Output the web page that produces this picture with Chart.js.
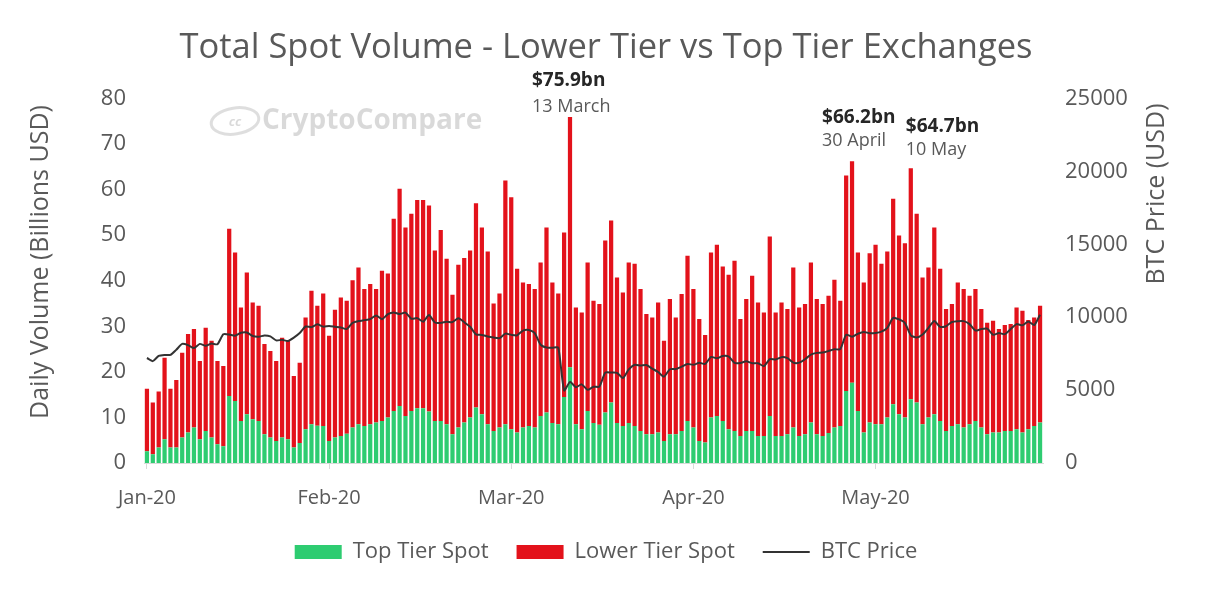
<!DOCTYPE html>
<html><head><meta charset="utf-8">
<script src="https://cdn.jsdelivr.net/npm/chart.js@4.4.1/dist/chart.umd.min.js"></script>
<style>html,body{margin:0;padding:0;background:#fff}#wrap{width:1212px;height:590px;position:relative}canvas{display:block}</style>
</head><body><div id="wrap"><canvas id="c" width="1212" height="590" style="width:1212px;height:590px"></canvas></div>
<script>
// ---- data ----
const startDate = [2020, 0, 1];
const dayCount = 153;
const tickLabels = ['Jan-20', 'Feb-20', 'Mar-20', 'Apr-20', 'May-20'];
const tickEvery = 31;

const topTierSpot = [
  2.6, 1.9, 3.4, 5.2, 3.4, 3.4, 5.6, 6.7, 7.8, 5.2, 7.0, 5.6, 4.1, 3.7, 14.7, 13.6, 9.2, 10.7, 9.6, 9.2, 6.3, 5.6, 4.8, 5.6, 5.2, 3.4, 4.4, 7.4, 8.5, 8.2,
  8.1, 4.8, 5.6, 5.9, 6.4, 7.8, 8.5, 8.1, 8.5, 8.9, 9.2, 10.0, 11.4, 12.5, 10.3, 11.4, 12.0, 12.0, 11.3, 9.2, 9.2, 8.5, 6.3, 7.8, 8.9, 10.0, 12.2, 10.7, 8.5, 7.0,
  7.8, 8.5, 7.4, 6.7, 7.8, 8.1, 7.8, 10.3, 11.1, 8.8, 8.5, 14.5, 21.0, 8.5, 7.4, 11.4, 8.8, 8.4, 11.1, 13.3, 8.8, 8.1, 8.8, 8.1, 7.0, 6.3, 6.3, 6.7, 4.8, 6.3, 6.3, 7.0,
  9.2, 7.8, 4.8, 4.5, 10.0, 10.3, 9.2, 7.4, 7.0, 5.9, 7.0, 7.0, 5.9, 5.9, 10.3, 5.9, 5.9, 6.3, 7.8, 5.9, 6.3, 8.9, 6.3, 5.9, 6.6, 7.8, 8.1, 15.8, 17.6, 11.4,
  6.7, 8.9, 8.5, 8.5, 10.0, 12.9, 10.7, 10.0, 14.0, 13.3, 8.5, 10.0, 10.7, 9.2, 7.0, 8.1, 8.5, 7.8, 8.5, 9.2, 7.8, 6.3, 6.7, 6.7, 7.0, 7.0, 7.4, 6.7, 7.4, 8.1, 8.9
];

const lowerTierSpot = [
  13.7, 11.4, 12.3, 17.9, 12.9, 14.8, 18.6, 21.6, 21.6, 17.2, 22.7, 21.2, 18.3, 17.6, 36.7, 32.6, 24.9, 31.1, 25.6, 25.3, 19.8, 19.0, 17.6, 21.9, 21.6, 15.7, 17.6, 24.5, 29.3, 26.3,
  29.1, 23.1, 28.0, 30.4, 29.2, 32.3, 34.4, 30.1, 30.8, 29.3, 33.0, 31.6, 42.2, 47.7, 41.4, 43.3, 45.7, 45.7, 45.2, 37.4, 41.9, 36.3, 30.6, 35.7, 36.1, 36.6, 44.8, 41.0, 37.9, 28.0,
  29.4, 53.5, 50.9, 35.9, 31.8, 31.2, 30.4, 33.7, 40.6, 30.8, 28.7, 36.1, 54.9, 25.6, 25.6, 32.6, 26.8, 26.5, 37.7, 39.9, 31.9, 29.3, 35.2, 35.6, 31.2, 26.4, 25.6, 28.5, 22.0, 29.7, 25.6, 30.1,
  36.3, 30.4, 26.8, 23.6, 36.2, 37.6, 33.9, 33.9, 37.4, 25.7, 29.0, 34.1, 29.3, 27.1, 39.4, 27.1, 29.3, 27.5, 35.1, 28.2, 28.6, 35.1, 29.7, 29.0, 30.1, 32.4, 27.5, 47.3, 48.6, 34.8,
  32.9, 37.1, 39.4, 35.2, 36.4, 45.1, 39.2, 38.2, 50.7, 41.4, 32.2, 32.9, 41.0, 33.4, 26.8, 26.8, 31.1, 30.4, 28.2, 29.0, 26.0, 24.5, 24.5, 22.7, 23.3, 23.5, 26.7, 26.7, 24.0, 23.8, 25.6
];

const btcPrice = [
  7200, 6985, 7345, 7411, 7411, 7769, 8164, 8080, 7879, 8167, 8038, 8192, 8144, 8828, 8807, 8724, 8929, 8943, 8706, 8658, 8746, 8681, 8407, 8445, 8368, 8597, 8910, 9359, 9317, 9509, 9351,
  9393, 9344, 9294, 9181, 9613, 9730, 9796, 9865, 10117, 9857, 10208, 10326, 10214, 10312, 9889, 9934, 9690, 10142, 9633, 9608, 9686, 9663, 9925, 9650, 9342, 8821, 8784, 8672, 8600,
  8562, 8870, 8788, 8755, 9079, 9123, 8910, 8108, 7924, 7910, 7911, 4971, 5564, 5200, 5392, 5014, 5226, 5238, 6191, 6199, 6185, 5830, 6416, 6735, 6681, 6716, 6470, 6242, 5922, 6430, 6439,
  6607, 6794, 6733, 6868, 6791, 7272, 7176, 7334, 7302, 6865, 6859, 6971, 6845, 6842, 6642, 7117, 7096, 7258, 7189, 6882, 6880, 7117, 7430, 7551, 7570, 7680, 7796, 7807, 8801, 8659,
  8865, 8989, 8897, 8913, 9003, 9269, 9952, 9843, 9594, 8756, 8602, 8804, 9270, 9734, 9328, 9377, 9671, 9727, 9729, 9523, 9082, 9183, 9209, 8790, 8907, 8835, 9181, 9525, 9439, 9700, 9461,
  10167
];

const annotations = [
  { index: 72, value: '$75.9bn', date: '13 March' },
  { index: 120, value: '$66.2bn', date: '30 April' },
  { index: 130, value: '$64.7bn', date: '10 May' }
];

// ---- categories (one per day) ----
const categories = [];
for (let i = 0; i < dayCount; i++) {
  const d = new Date(Date.UTC(startDate[0], startDate[1], startDate[2] + i));
  categories.push(d.toISOString().slice(0, 10));
}

// ---- styling ----
const FONT = "'Open Sans', 'Noto Sans', sans-serif";
const TXT = '#595959';
const annoOffsets = [ {dx: -38, dyV: -36, dyD: -10}, {dx: -30, dyV: -44, dyD: -20}, {dx: -5, dyV: -42, dyD: -18} ];

const extrasPlugin = {
  id: 'extras',
  beforeDatasetsDraw(chart) {
    const ctx = chart.ctx;
    ctx.save();
    ctx.strokeStyle = 'rgba(0,0,0,0.13)';
    ctx.lineWidth = 3;
    ctx.beginPath();
    ctx.ellipse(235, 121, 24, 13, -0.15, 0, Math.PI * 2);
    ctx.stroke();
    ctx.fillStyle = 'rgba(0,0,0,0.15)';
    ctx.font = "italic bold 13px " + FONT;
    ctx.textAlign = 'center'; ctx.textBaseline = 'middle';
    ctx.fillText('cc', 235, 122);
    ctx.font = "bold 28px " + FONT;
    ctx.textAlign = 'left';
    ctx.fillText('CryptoCompare', 262, 121);
    ctx.restore();
  },
  afterDatasetsDraw(chart) {
    const ctx = chart.ctx;
    const xs = chart.scales.x, ys = chart.scales.y;
    ctx.save();
    annotations.forEach((a, i) => {
      const o = annoOffsets[i];
      const x = xs.getPixelForValue(a.index);
      const top = ys.getPixelForValue(topTierSpot[a.index] + lowerTierSpot[a.index]);
      ctx.textAlign = 'left'; ctx.textBaseline = 'middle';
      ctx.fillStyle = '#262626';
      ctx.font = "bold 19px " + FONT;
      ctx.fillText(a.value, x + o.dx, top + o.dyV);
      ctx.fillStyle = TXT;
      ctx.font = "18px " + FONT;
      ctx.fillText(a.date, x + o.dx, top + o.dyD);
    });
    ctx.fillStyle = TXT;
    ctx.font = "25px " + FONT;
    ctx.textAlign = 'center'; ctx.textBaseline = 'middle';
    ctx.translate(41, 262); ctx.rotate(-Math.PI / 2);
    ctx.fillText('Daily Volume (Billions USD)', 0, 0);
    ctx.setTransform(1, 0, 0, 1, 0, 0);
    ctx.translate(1157, 194); ctx.rotate(-Math.PI / 2);
    ctx.fillText('BTC Price (USD)', 0, 0);
    ctx.restore();
  }
};

new Chart(document.getElementById('c'), {
  type: 'bar',
  data: {
    labels: categories,
    datasets: [
      { label: 'Top Tier Spot', data: topTierSpot, backgroundColor: '#2ecc71', stack: 'vol', yAxisID: 'y',
        pointStyle: 'rect', order: 1, barPercentage: 0.72, categoryPercentage: 1, borderWidth: 0 },
      { label: 'Lower Tier Spot', data: lowerTierSpot, backgroundColor: '#e3121b', stack: 'vol', yAxisID: 'y',
        pointStyle: 'rect', order: 2, barPercentage: 0.72, categoryPercentage: 1, borderWidth: 0 },
      { type: 'line', label: 'BTC Price', data: btcPrice, yAxisID: 'y1', stack: 'price',
        borderColor: '#333333', borderWidth: 2, pointRadius: 0, pointHoverRadius: 0, pointStyle: 'line',
        pointBorderColor: '#333333', pointBorderWidth: 2, tension: 0.2, order: 0, fill: false }
    ]
  },
  options: {
    responsive: false,
    animation: false,
    devicePixelRatio: 1,
    layout: { padding: { top: 0, bottom: 17, left: 0, right: 0 } },
    plugins: {
      title: { display: true, text: 'Total Spot Volume - Lower Tier vs Top Tier Exchanges',
        color: TXT, font: { family: FONT, size: 34.5, weight: 'normal' }, padding: { top: 27, bottom: 30 } },
      legend: { position: 'bottom',
        labels: { usePointStyle: true, pointStyleWidth: 47, boxHeight: 14, padding: 28, color: TXT,
          font: { family: FONT, size: 22 }, sort: (a, b) => a.datasetIndex - b.datasetIndex } },
      tooltip: { enabled: false }
    },
    scales: {
      x: {
        stacked: true, offset: true,
        grid: { display: true, drawOnChartArea: false, drawTicks: true, tickLength: 6, color: '#d9d9d9', offset: false },
        border: { display: true, color: '#d9d9d9' },
        ticks: { autoSkip: false, maxRotation: 0, padding: 17, color: TXT, font: { family: FONT, size: 20 },
          callback: (value) => tickLabels[value / tickEvery] },
        afterBuildTicks: (s) => { s.ticks = s.ticks.filter(t => t.value % tickEvery === 0); },
        afterFit: (s) => { s.height = 50; }
      },
      y: {
        stacked: true, position: 'left', min: 0, max: 80,
        ticks: { stepSize: 10, padding: 18, color: TXT, font: { family: FONT, size: 22 } },
        grid: { display: false, drawTicks: false }, border: { display: false },
        afterFit: (s) => { s.width = 144; }
      },
      y1: {
        position: 'right', min: 0, max: 25000,
        ticks: { stepSize: 5000, padding: 22, color: TXT, font: { family: FONT, size: 22 },
          callback: (v) => String(v) },
        grid: { display: false, drawTicks: false }, border: { display: false },
        afterFit: (s) => { s.width = 169; }
      }
    }
  },
  plugins: [extrasPlugin]
});
</script>
</body></html>
